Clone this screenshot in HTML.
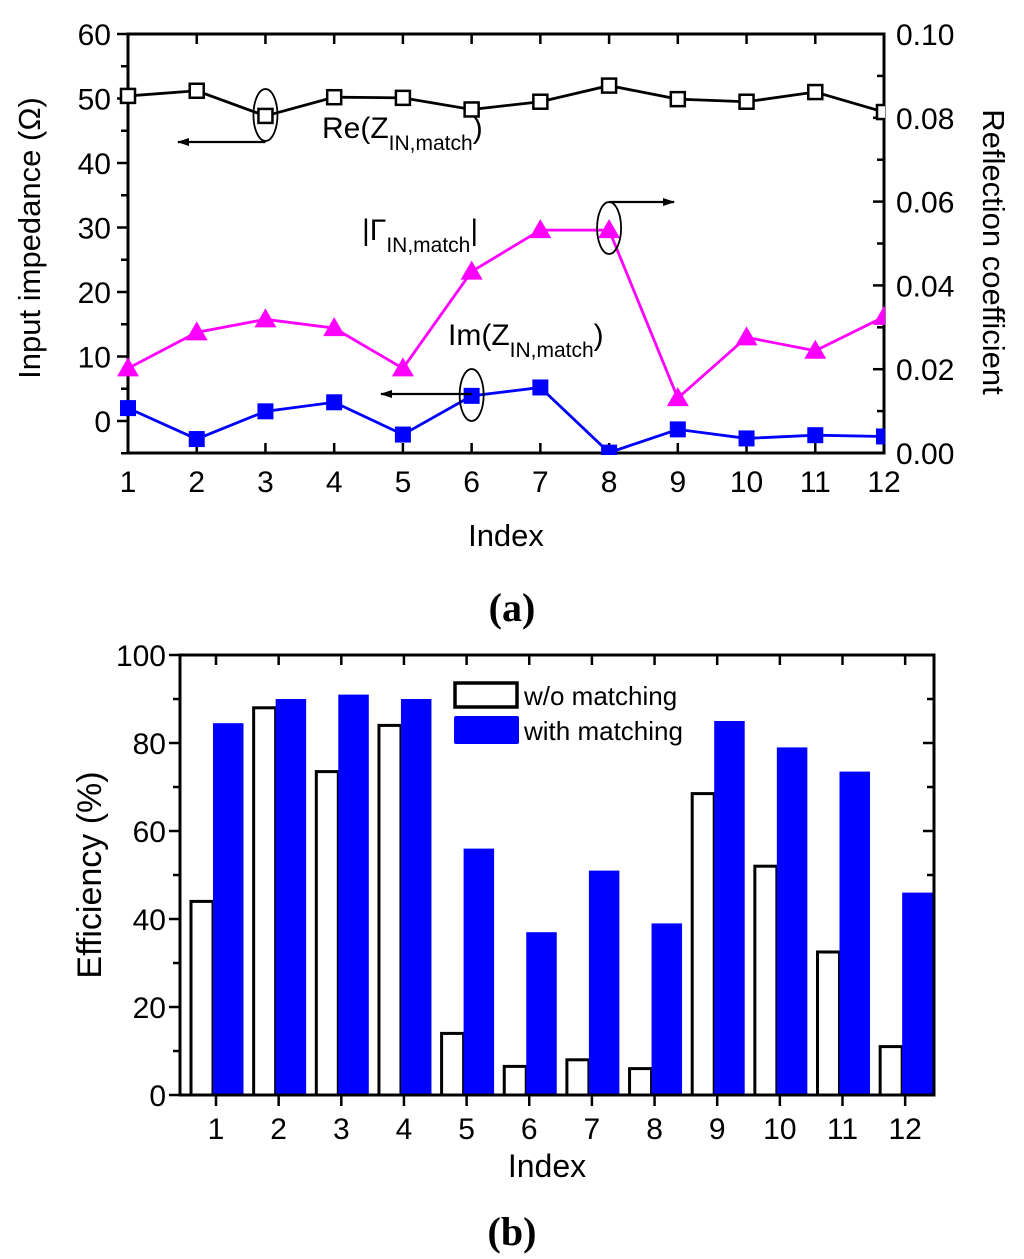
<!DOCTYPE html>
<html><head><meta charset="utf-8"><style>
body{margin:0;background:#fff}
svg{display:block;font-family:"Liberation Sans",Arial,sans-serif}
</style></head><body>
<svg id="svg" width="1024" height="1259" viewBox="0 0 1024 1259" xmlns="http://www.w3.org/2000/svg">
<g id="top"></g>
<g id="bot"></g>
</svg>
<script>
const idx = [1,2,3,4,5,6,7,8,9,10,11,12];
const reZ = [50.4,51.2,47.3,50.2,50.1,48.3,49.5,52.0,49.9,49.5,51.0,47.9];
const imZ = [2.0,-2.8,1.5,2.9,-2.1,3.9,5.2,-4.9,-1.3,-2.7,-2.2,-2.4];
const gamma = [0.0202,0.0288,0.0319,0.0298,0.0202,0.0433,0.0532,0.0532,0.0131,0.0276,0.0244,0.0325];
const leftTicks = [0,10,20,30,40,50,60];
const rightTicks = ["0.00","0.02","0.04","0.06","0.08","0.10"];
const effWithout = [44,88,73.5,84,14,6.5,8,6,68.5,52,32.5,11];
const effWith = [84.5,90,91,90,56,37,51,39,85,79,73.5,46];
const effTicks = [0,20,40,60,80,100];

const NS="http://www.w3.org/2000/svg";
function mk(parent,tag,attrs,text){const e=document.createElementNS(NS,tag);for(const k in attrs)e.setAttribute(k,attrs[k]);if(text!==undefined)e.textContent=text;parent.appendChild(e);return e;}

// ---------- top chart ----------
const T=document.getElementById('top');
const L=128,R=884,TOP=34,BOT=453;
const xT=i=>L+(i-1)*(R-L)/11;
const yL=v=>421-6.45*v;
const yR=r=>BOT-(BOT-TOP)*r/0.10;
let e;
e=mk(T,'rect',{x:L,y:TOP,width:R-L,height:BOT-TOP,fill:'none',stroke:'#000','stroke-width':3});

idx.forEach(i=>{
  e=mk(T,'line',{x1:xT(i),x2:xT(i),y1:BOT,y2:BOT-10,stroke:'#000','stroke-width':2.5});
  
  e=mk(T,'line',{x1:xT(i),x2:xT(i),y1:TOP,y2:TOP+10,stroke:'#000','stroke-width':2.5});
  
  e=mk(T,'text',{x:xT(i),y:492,'font-size':30,'text-anchor':'middle'},String(i));
  
});
for(let v=-5;v<=60;v+=5){
  const maj=v%10===0;
  e=mk(T,'line',{x1:L,x2:L-(maj?11:7),y1:yL(v),y2:yL(v),stroke:'#000','stroke-width':2.5});
  
}
leftTicks.forEach(v=>{
  e=mk(T,'text',{x:111,y:yL(v)+11,'font-size':30,'text-anchor':'end'},String(v));
  
});
for(let k=0;k<=10;k++){
  const r=k*0.01;
  e=mk(T,'line',{x1:R,x2:R-(k%2===0?11:7),y1:yR(r),y2:yR(r),stroke:'#000','stroke-width':2.5});
  
}
rightTicks.forEach(s=>{
  e=mk(T,'text',{x:896,y:yR(parseFloat(s))+11,'font-size':30},s);
  
});
e=mk(T,'text',{x:0,y:0,'font-size':31,'text-anchor':'middle',transform:'translate(40,238) rotate(-90)'},'Input impedance (Ω)');

e=mk(T,'text',{x:0,y:0,'font-size':31,'text-anchor':'middle',transform:'translate(983,252) rotate(90)'},'Reflection coefficient');

e=mk(T,'text',{x:506,y:546,'font-size':31,'text-anchor':'middle'},'Index');


const clip=mk(T,'clipPath',{id:'clipA'});mk(clip,'rect',{x:L-12,y:TOP,width:R-L+13,height:BOT-TOP+2});
const gS=mk(T,'g',{'clip-path':'url(#clipA)'});
function series(vals,yf,color,name,marker){
  const p=mk(gS,'polyline',{points:vals.map((v,i)=>xT(idx[i])+','+yf(v)).join(' '),fill:'none',stroke:color,'stroke-width':2.8});
  
  vals.forEach((v,i)=>{
    const x=xT(idx[i]),y=yf(v);let m;
    if(marker==='open')m=mk(gS,'rect',{x:x-7,y:y-7,width:14,height:14,fill:'#fff',stroke:color,'stroke-width':2.5});
    else if(marker==='sq')m=mk(gS,'rect',{x:x-8,y:y-8,width:16,height:16,fill:color});
    else m=mk(gS,'polygon',{points:`${x},${y-11} ${x-11},${y+8} ${x+11},${y+8}`,fill:color});
    
  });
}
series(reZ,yL,'#000','re-z','open');
series(gamma,yR,'#ff00ff','gamma','tri');
series(imZ,yL,'#0000ff','im-z','sq');

function label(x,y,main,sub,close,name){
  const t=mk(T,'text',{x:x,y:y,'font-size':30},'');
  
  mk(t,'tspan',{},main);mk(t,'tspan',{'font-size':21,dy:12},sub);mk(t,'tspan',{dy:-12},close);
}
label(322,138,'Re(Z','IN,match',')','re-z-label');
label(362,240,'|Γ','IN,match','|','gamma-label');
label(448,345,'Im(Z','IN,match',')','im-z-label');
mk(T,'defs',{}).innerHTML='<marker id="ah" markerWidth="12" markerHeight="8" refX="11" refY="4" orient="auto" markerUnits="userSpaceOnUse"><path d="M0,0 L12,4 L0,8 Z" fill="#000"/></marker>';
function ann(cx,cy,x1,y1,x2,y2,name){
  e=mk(T,'ellipse',{cx:cx,cy:cy,rx:12,ry:26,fill:'none',stroke:'#000','stroke-width':1.8});
  
  e=mk(T,'line',{x1:x1,y1:y1,x2:x2,y2:y2,stroke:'#000','stroke-width':2.2,'marker-end':'url(#ah)'});
  
}
ann(xT(3),115,xT(3),142,178,142,'re-z-axis');
ann(xT(6),395,xT(6),394,381,394,'im-z-axis');
ann(xT(8),228,xT(8),202,674,202,'gamma-axis');
e=mk(T,'text',{x:512,y:621,'font-size':40,'font-weight':'bold','text-anchor':'middle','font-family':'Liberation Serif,serif'},'(a)');


// ---------- bottom chart ----------
const B=document.getElementById('bot');
const BL=180,BR=934,BT=655,BB=1095;
const xB=i=>216+(i-1)*62.65;
const yB=v=>BB-(BB-BT)*v/100;
for(let v=0;v<=100;v+=10){
  e=mk(B,'line',{x1:BL,x2:BL-(v%20===0?11:7),y1:yB(v),y2:yB(v),stroke:'#000','stroke-width':2.5});
  
  if(v>0&&v<100){e=mk(B,'line',{x1:BR,x2:BR-(v%20===0?11:7),y1:yB(v),y2:yB(v),stroke:'#000','stroke-width':2.5});
  }
}
effTicks.forEach(v=>{
  e=mk(B,'text',{x:166,y:yB(v)+11,'font-size':30,'text-anchor':'end'},String(v));
  
});
idx.forEach((c,i)=>{
  const x=xB(c);
  e=mk(B,'rect',{x:x-25,y:yB(effWithout[i]),width:22,height:BB-yB(effWithout[i]),fill:'#fff',stroke:'#000','stroke-width':3});
  
  e=mk(B,'rect',{x:x-3,y:yB(effWith[i]),width:30.5,height:BB-yB(effWith[i]),fill:'#0000ff'});
  
  e=mk(B,'line',{x1:x,x2:x,y1:BB,y2:BB+11,stroke:'#000','stroke-width':2.5});
  
  e=mk(B,'line',{x1:x,x2:x,y1:BT,y2:BT+10,stroke:'#000','stroke-width':2.5});
  
  e=mk(B,'text',{x:x,y:1139,'font-size':30,'text-anchor':'middle'},String(c));
  
});
e=mk(B,'rect',{x:BL,y:BT,width:BR-BL,height:BB-BT,fill:'none',stroke:'#000','stroke-width':3});

e=mk(B,'rect',{x:455,y:683,width:62,height:24,fill:'#fff',stroke:'#000','stroke-width':3.5});

e=mk(B,'rect',{x:454,y:716,width:65,height:28,fill:'#0000ff',rx:2});

e=mk(B,'text',{x:524,y:705,'font-size':26},'w/o matching');

e=mk(B,'text',{x:524,y:740,'font-size':26},'with matching');

e=mk(B,'text',{x:0,y:0,'font-size':34,'text-anchor':'middle',transform:'translate(101,875) rotate(-90)'},'Efficiency (%)');

e=mk(B,'text',{x:547,y:1177,'font-size':32,'text-anchor':'middle'},'Index');

e=mk(B,'text',{x:512,y:1245,'font-size':40,'font-weight':'bold','text-anchor':'middle','font-family':'Liberation Serif,serif'},'(b)');

</script>
</body></html>
